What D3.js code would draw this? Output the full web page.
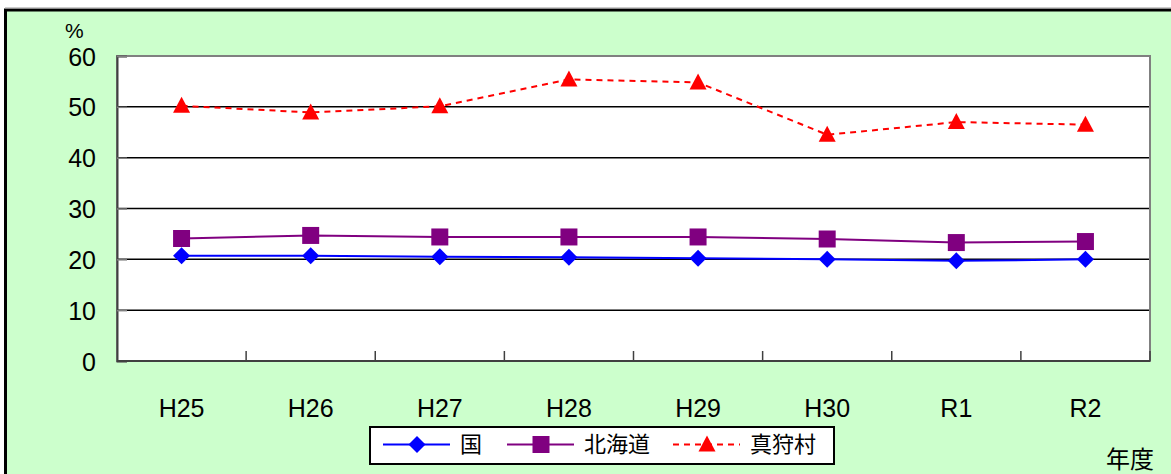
<!DOCTYPE html>
<html><head><meta charset="utf-8">
<script src="https://cdn.jsdelivr.net/npm/d3@7/dist/d3.min.js"></script>
<style>
html,body{margin:0;padding:0;background:#fff;}
svg{display:block;}
text{font-family:"Liberation Sans","Noto Sans CJK JP",sans-serif;fill:#000;}
</style></head>
<body>
<svg id="chart" width="1171" height="474"></svg>
<script>
const categories = ["H25","H26","H27","H28","H29","H30","R1","R2"];
const seriesNames = ["国","北海道","真狩村"];
const kuni = [20.7, 20.7, 20.5, 20.4, 20.2, 20.0, 19.7, 20.0];
const hokkaido = [24.1, 24.7, 24.4, 24.4, 24.4, 24.0, 23.3, 23.5];
const makkari = [50.2, 48.9, 50.1, 55.4, 54.8, 44.5, 47.0, 46.5];
const yTicks = [0, 10, 20, 30, 40, 50, 60];

const svg = d3.select("#chart");
const W = 1171, H = 474;

// outer frame
svg.append("rect").attr("x",5.5).attr("y",10).attr("width",W+10).attr("height",H+10)
  .attr("fill","#CCFFCC").attr("stroke","#000").attr("stroke-width",3);
svg.append("line").attr("x1",5).attr("x2",W).attr("y1",8).attr("y2",8).attr("stroke","#999").attr("stroke-width",1);

const L = 117, R = 1150, T = 56, B = 361;
const x = d3.scaleBand().domain(categories).range([L, R]);
const y = d3.scaleLinear().domain([0, 60]).range([B, T]);

svg.append("rect").attr("x",L).attr("y",T).attr("width",R-L).attr("height",B-T).attr("fill","#fff");

// gridlines
svg.append("g").selectAll("line").data(yTicks.filter(d => d > 0 && d < 60)).join("line")
  .attr("x1",L).attr("x2",R).attr("y1",d=>y(d)).attr("y2",d=>y(d))
  .attr("stroke","#000").attr("stroke-width",1.5);

// plot border
svg.append("rect").attr("x",L).attr("y",T).attr("width",R-L).attr("height",B-T)
  .attr("fill","none").attr("stroke","#808080").attr("stroke-width",2);

// y axis
const yAxis = d3.axisLeft(y).tickValues(yTicks).tickSize(-10).tickPadding(20);
const gy = svg.append("g").attr("transform",`translate(${L},0)`).call(yAxis);
gy.select(".domain").attr("stroke","#404040").attr("stroke-width",2);
gy.selectAll(".tick line").attr("stroke","#808080").attr("stroke-width",1.5);
gy.selectAll(".tick text").attr("font-size",25).attr("x",-21).attr("dy","0.36em")
  .style("font-family","Liberation Sans, sans-serif");

// x axis with inside ticks at band boundaries
const boundaries = categories.slice(1).map(c => x(c)).concat([R]);
svg.append("g").selectAll("line").data(boundaries).join("line")
  .attr("x1",d=>d).attr("x2",d=>d).attr("y1",B).attr("y2",B-10)
  .attr("stroke","#404040").attr("stroke-width",1.5);
svg.append("line").attr("x1",L).attr("x2",R).attr("y1",B).attr("y2",B).attr("stroke","#404040").attr("stroke-width",2);
const xAxis = d3.axisBottom(x).tickSize(0).tickPadding(0);
const gx = svg.append("g").attr("transform",`translate(0,${B})`).call(xAxis);
gx.select(".domain").remove();
gx.selectAll(".tick text").attr("font-size",25).attr("y",56).attr("dy",0)
  .style("font-family","Liberation Sans, sans-serif");

// labels
svg.append("text").attr("x",65).attr("y",37.5).attr("font-size",21).text("%");
svg.append("text").attr("x",1106).attr("y",468).attr("font-size",24).text("年度");

const cx = i => x(categories[i]) + x.bandwidth()/2;
const series = [
  {name:seriesNames[0], data:kuni, color:"#0000FF", dash:null, marker:"diamond"},
  {name:seriesNames[1], data:hokkaido, color:"#800080", dash:null, marker:"square"},
  {name:seriesNames[2], data:makkari, color:"#FF0000", dash:"6,5", marker:"triangle"}
];
function markerPath(type){
  if(type==="diamond") return "M0,-8.5L8.5,0L0,8.5L-8.5,0Z";
  if(type==="square") return "M-8.5,-8.5H8.5V8.5H-8.5Z";
  return "M0,-9L8.5,7H-8.5Z";
}
const line = d3.line().x((d,i)=>cx(i)).y(d=>y(d));
series.forEach(s=>{
  svg.append("path").datum(s.data).attr("d",line).attr("fill","none")
    .attr("stroke",s.color).attr("stroke-width",2)
    .attr("stroke-dasharray",s.dash);
  svg.append("g").selectAll("path").data(s.data).join("path")
    .attr("transform",(d,i)=>`translate(${cx(i)},${y(d)})`)
    .attr("d",markerPath(s.marker)).attr("fill",s.color);
});

// legend
const lg = svg.append("g");
lg.append("rect").attr("x",370).attr("y",427).attr("width",464).attr("height",37)
  .attr("fill","#fff").attr("stroke","#000").attr("stroke-width",2);
const legendX = [383, 507, 673];
series.forEach((s,i)=>{
  const lx = legendX[i], ly = 444.5;
  lg.append("line").attr("x1",lx).attr("x2",lx+67).attr("y1",ly).attr("y2",ly)
    .attr("stroke",s.color).attr("stroke-width",2).attr("stroke-dasharray",s.dash);
  lg.append("path").attr("transform",`translate(${lx+34},${ly})`)
    .attr("d",markerPath(s.marker)).attr("fill",s.color);
  lg.append("text").attr("x",lx+77).attr("y",ly).attr("dy","0.36em")
    .attr("font-size",22).text(s.name);
});
</script>
</body></html>
